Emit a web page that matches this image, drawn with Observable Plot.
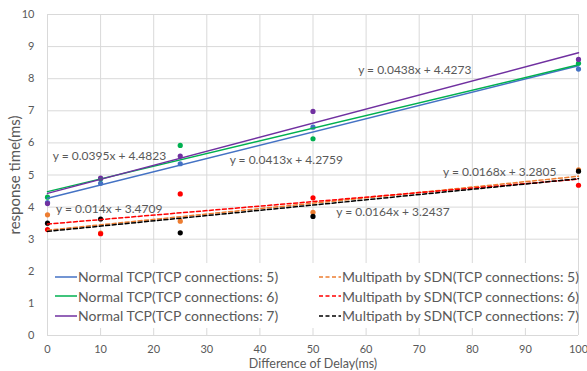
<!DOCTYPE html>
<html>
<head>
<meta charset="utf-8">
<script src="https://cdn.jsdelivr.net/npm/d3@7"></script>
<script src="https://cdn.jsdelivr.net/npm/@observablehq/plot@0.6"></script>
<style>
  html, body { margin: 0; padding: 0; background: #fff; }
  #wrap { position: relative; width: 587px; height: 371px; overflow: hidden; font-family: Lato, "Open Sans", sans-serif; }
  #wrap svg [aria-label="y-axis label"] text { font-size: 15px; }
  #wrap svg [aria-label="x-axis label"] text { font-size: 12.5px; }
  #legend { position: absolute; left: 48px; top: 263px; width: 529px; height: 65px; background: #fff; }
  .col { position: absolute; top: 4px; }
  .row { height: 19.5px; display: flex; align-items: center; font-size: 14px; color: #595959; white-space: nowrap; }
  .row svg { width: 22px; height: 4px; margin-right: 1px; }
</style>
</head>
<body>
<div id="wrap"></div>
<script>
// Delay differences (ms)
const delays = [0, 10, 25, 50, 100];

// Response times (ms)
const normal5 = [4.14, 4.74, 5.35, 6.49, 8.30];
const normal6 = [4.31, 4.88, 5.92, 6.13, 8.48];
const normal7 = [4.11, 4.90, 5.59, 6.98, 8.60];
const multi5  = [3.76, 3.19, 3.56, 3.84, 5.16];
const multi6  = [3.30, 3.17, 4.41, 4.29, 4.68];
const multi7  = [3.50, 3.63, 3.20, 3.71, 5.12];

const seriesNames = [
  "Normal TCP(TCP connections: 5)",
  "Normal TCP(TCP connections: 6)",
  "Normal TCP(TCP connections: 7)",
  "Multipath by SDN(TCP connections: 5)",
  "Multipath by SDN(TCP connections: 6)",
  "Multipath by SDN(TCP connections: 7)"
];
const seriesValues = [normal5, normal6, normal7, multi5, multi6, multi7];
const seriesColors = ["#4472C4", "#00B050", "#7030A0", "#ED7D31", "#FF0000", "#000000"];
const seriesDashed = [false, false, false, true, true, true];

// Linear trendline equations shown on the chart
const slopes     = [0.0413, 0.0395, 0.0438, 0.0168, 0.014, 0.0164];
const intercepts = [4.2759, 4.4823, 4.4273, 3.2805, 3.4709, 3.2437];

// Equation labels (anchor in data units)
const eqLabels = ["y = 0.0395x + 4.4823", "y = 0.0413x + 4.2759", "y = 0.0438x + 4.4273",
                  "y = 0.014x + 3.4709", "y = 0.0168x + 3.2805", "y = 0.0164x + 3.2437"];
const eqX = [1.0, 34.3, 58.5, 1.6, 74.5, 54.4];
const eqY = [5.59, 5.45, 8.27, 3.93, 5.08, 3.84];

const xTicks = d3.range(0, 101, 10);
const yTicks = d3.range(0, 11, 1);

// Build tables
const points = [];
seriesNames.forEach((s, i) => seriesValues[i].forEach((v, j) => points.push({s, i, x: delays[j], y: v})));
const trends = [];
seriesNames.forEach((s, i) => [0, 100].forEach(x => trends.push({s, i, x, y: slopes[i] * x + intercepts[i]})));
const labels = eqLabels.map((t, i) => ({t, x: eqX[i], y: eqY[i]}));

const marks = [
  Plot.gridX(xTicks, {stroke: "#d9d9d9", strokeOpacity: 1}),
  Plot.gridY(yTicks, {stroke: "#d9d9d9", strokeOpacity: 1}),
  Plot.axisX(xTicks, {tickSize: 0, tickPadding: 10, label: "Difference of Delay(ms)", labelAnchor: "center", labelArrow: "none", labelOffset: 32}),
  Plot.axisY(yTicks, {tickSize: 0, tickPadding: 13, label: "response time(ms)", labelAnchor: "center", labelArrow: "none", labelOffset: 38})
];
seriesNames.forEach((s, i) => {
  marks.push(Plot.dot(points.filter(d => d.i === i), {x: "x", y: "y", r: 2.6, fill: seriesColors[i], stroke: "none"}));
});
seriesNames.forEach((s, i) => {
  marks.push(Plot.line(trends.filter(d => d.i === i), {x: "x", y: "y", stroke: seriesColors[i], strokeWidth: 1.5,
    strokeDasharray: seriesDashed[i] ? "4,2.5" : null}));
});
marks.push(Plot.text(labels, {x: "x", y: "y", text: "t", textAnchor: "start", fill: "#595959", fontSize: 12}));

const chart = Plot.plot({
  width: 587,
  height: 371,
  marginLeft: 47,
  marginRight: 9,
  marginTop: 14,
  marginBottom: 36,
  x: {domain: [0, 100]},
  y: {domain: [0, 10]},
  style: {fontFamily: "Lato, 'Open Sans', sans-serif", fontSize: "11px", color: "#595959", background: "#fff"},
  marks
});
const wrap = document.getElementById("wrap");
wrap.appendChild(chart);

// Legend inside the plot
const legend = document.createElement("div");
legend.id = "legend";
const colLefts = [7, 271];
[0, 1].forEach(c => {
  const col = document.createElement("div");
  col.className = "col";
  col.style.left = colLefts[c] + "px";
  for (let k = 0; k < 3; k++) {
    const i = c * 3 + k;
    const row = document.createElement("div");
    row.className = "row";
    row.innerHTML = `<svg viewBox="0 0 22 4"><line x1="0" y1="2" x2="22" y2="2" stroke="${seriesColors[i]}" stroke-width="1.5" ${seriesDashed[i] ? 'stroke-dasharray="4,2.5"' : ''}/></svg><span>${seriesNames[i]}</span>`;
    col.appendChild(row);
  }
  legend.appendChild(col);
});
wrap.appendChild(legend);
</script>
</body>
</html>
